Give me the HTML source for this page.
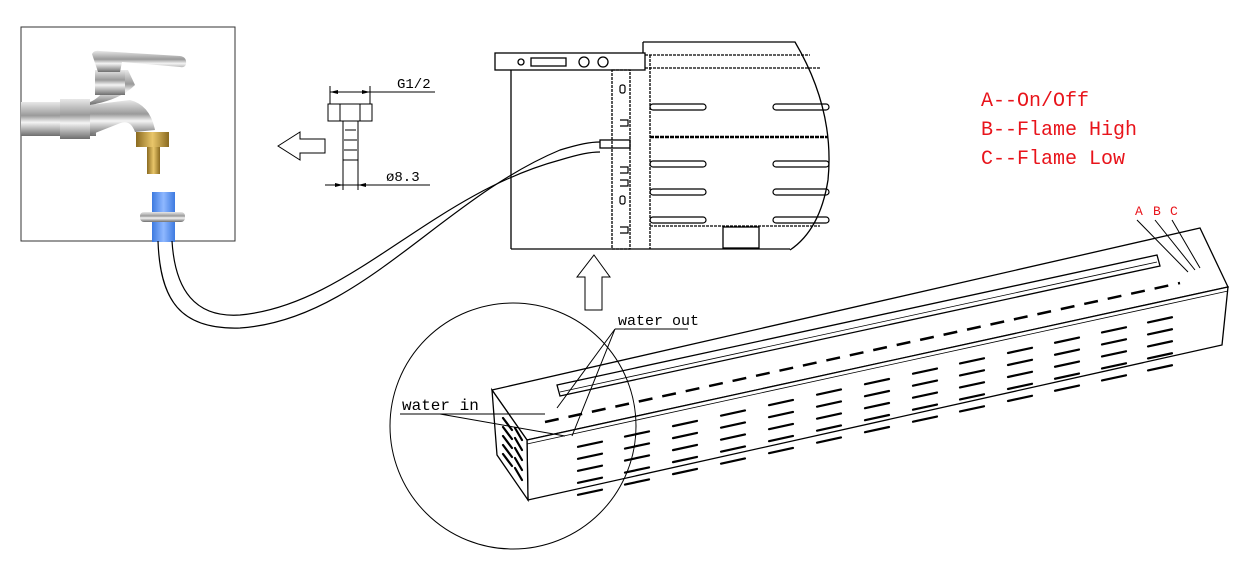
<!DOCTYPE html>
<html><head><meta charset="utf-8"><style>
html,body{margin:0;padding:0;background:#fff;}
svg{display:block;}
text{font-family:"Liberation Mono","Liberation Serif",monospace;}
</style></head><body>
<svg id="s" width="1245" height="569" viewBox="0 0 1245 569" xmlns="http://www.w3.org/2000/svg">
<defs>
<linearGradient id="chrome" x1="0" y1="0" x2="0" y2="1">
<stop offset="0" stop-color="#e8e8e8"/><stop offset="0.4" stop-color="#9a9a9a"/><stop offset="0.6" stop-color="#f4f4f4"/><stop offset="1" stop-color="#6e6e6e"/></linearGradient>
<linearGradient id="brass" x1="0" y1="0" x2="1" y2="0">
<stop offset="0" stop-color="#8a6a20"/><stop offset="0.5" stop-color="#e9c66a"/><stop offset="1" stop-color="#8a6a20"/></linearGradient>
<linearGradient id="blue" x1="0" y1="0" x2="1" y2="0">
<stop offset="0" stop-color="#3d7ae0"/><stop offset="0.5" stop-color="#8fb8ff"/><stop offset="1" stop-color="#3d7ae0"/></linearGradient>
</defs>
<rect x="21" y="27" width="214" height="214" fill="#fff" stroke="#333" stroke-width="1"/>
<rect x="21" y="102" width="75" height="34" fill="url(#chrome)"/>
<rect x="60" y="99" width="30" height="40" fill="url(#chrome)"/>
<path d="M90 105 Q120 100 135 85 L128 70 L110 70 L108 85 Q100 98 90 102 Z" fill="url(#chrome)"/>
<path d="M90 105 L130 100 Q150 105 155 130 L135 132 Q130 118 118 124 L90 135 Z" fill="url(#chrome)"/>
<rect x="95" y="70" width="30" height="25" fill="url(#chrome)"/>
<path d="M92 54 Q94 50 100 51 L180 56 Q187 57 186 64 Q185 68 180 67 L122 62 L120 72 L98 72 Z" fill="url(#chrome)"/>
<rect x="136" y="132" width="33" height="15" fill="url(#brass)"/>
<rect x="147" y="147" width="13" height="27" fill="url(#brass)"/>
<rect x="152" y="192" width="23" height="50" fill="url(#blue)"/>
<rect x="140" y="212" width="45" height="10" rx="4" fill="url(#chrome)"/>
<path d="M158 241 C160 300 180 330 240 328 C360 320 440 200 560 150 C580 144 590 142 600 142" fill="none" stroke="#000" stroke-width="1.2"/>
<path d="M172 241 C175 290 195 318 240 315 C350 305 430 195 560 160 C580 154 590 152 600 152" fill="none" stroke="#000" stroke-width="1.2"/>
<path d="M278 146 L300 132 L300 139 L325 139 L325 153 L300 153 L300 160 Z" fill="#fff" stroke="#000" stroke-width="1"/>
<g stroke="#000" stroke-width="1" fill="none">
<rect x="328" y="104" width="44" height="17"/>
<line x1="340" y1="104" x2="340" y2="121"/><line x1="360" y1="104" x2="360" y2="121"/>
<rect x="343" y="121" width="15" height="39"/>
<path d="M345 130 H356 M344 140 H357 M344 150 H357"/>
<line x1="330" y1="86" x2="330" y2="104"/><line x1="370" y1="86" x2="370" y2="104"/>
<line x1="330" y1="92" x2="435" y2="92"/>
<line x1="343" y1="160" x2="343" y2="190"/><line x1="358" y1="160" x2="358" y2="190"/>
<line x1="325" y1="185" x2="430" y2="185"/>
</g>
<g fill="#000"><path d="M330 92 l8 -2 v4z M370 92 l-8 -2 v4z M343 185 l-8 -2 v4z M358 185 l8 -2 v4z"/></g>
<text x="397" y="88" font-size="14">G1/2</text>
<text x="386" y="181" font-size="14">ø8.3</text>
<g stroke="#000" fill="none" stroke-width="1.3">
<path d="M643 42 L795 42 Q835 110 828 180 Q820 230 790 250"/>
<rect x="495" y="53" width="150" height="17"/>
<line x1="643" y1="42" x2="643" y2="53"/>
<line x1="645" y1="55" x2="810" y2="55" stroke-dasharray="3 1"/>
<line x1="645" y1="68" x2="820" y2="68" stroke-dasharray="3 1"/>
<line x1="511" y1="70" x2="511" y2="249"/>
<line x1="511" y1="249" x2="790" y2="249"/>
<rect x="612" y="70" width="18" height="179" stroke-dasharray="3 1"/>
<line x1="650" y1="55" x2="650" y2="249" stroke-dasharray="3 1"/>
<rect x="531" y="58" width="35" height="8"/>
<circle cx="521" cy="62" r="3"/>
<circle cx="584" cy="62" r="5"/><circle cx="603" cy="62" r="5"/>
<line x1="650" y1="137" x2="828" y2="137" stroke-width="2.5" stroke-dasharray="4 1"/>
<line x1="650" y1="226" x2="820" y2="226" stroke-dasharray="3 1"/>
<rect x="723" y="227" width="36" height="21"/>
<rect x="600" y="140" width="30" height="8"/>
</g>
<g stroke="#000" fill="none" stroke-width="1.2">
<rect x="650" y="104" width="56" height="6" rx="3"/><rect x="773" y="104" width="56" height="6" rx="3"/>
<rect x="650" y="161" width="56" height="6" rx="3"/><rect x="773" y="161" width="56" height="6" rx="3"/>
<rect x="650" y="189" width="56" height="6" rx="3"/><rect x="773" y="189" width="56" height="6" rx="3"/>
<rect x="650" y="217" width="56" height="6" rx="3"/><rect x="773" y="217" width="56" height="6" rx="3"/>
<rect x="620" y="85" width="5" height="8" rx="2"/><rect x="620" y="196" width="5" height="8" rx="2"/>
<path d="M620 120h8v6h-8 M620 167h8v6h-8 M620 180h8v6h-8 M620 227h8v6h-8"/>
</g>
<path d="M594 255 L610 277 L602 277 L602 310 L585 310 L585 277 L577 277 Z" fill="#fff" stroke="#000" stroke-width="1"/>
<g stroke="#000" fill="#fff" stroke-width="1.3">
<polygon points="492,390 1200,228 1228,287 527,440"/>
<polygon points="527,440 1228,287 1222,345 528,500"/>
<polygon points="492,390 527,440 528,500 497,455"/>
<polygon points="557,385 1157,255 1160,266 560,396" fill="#fff"/>
</g>
<line x1="560" y1="392" x2="1157" y2="262" stroke="#000" stroke-width="0.8"/>
<line x1="545" y1="422" x2="1180" y2="283" stroke="#000" stroke-width="2.5" stroke-dasharray="14 10"/>
<line x1="527" y1="444" x2="1228" y2="291" stroke="#000" stroke-width="0.8"/>
<g id="louv" stroke="#000" stroke-width="2.2" stroke-linecap="round"></g>
<circle cx="513" cy="426" r="123" fill="none" stroke="#000" stroke-width="1"/>
<g stroke="#000" stroke-width="1" fill="none">
<line x1="400" y1="414" x2="545" y2="414"/>
<line x1="440" y1="414" x2="565" y2="436"/>
<line x1="615" y1="329" x2="688" y2="329"/>
<line x1="615" y1="329" x2="557" y2="408"/>
<line x1="615" y1="329" x2="572" y2="436"/>
<line x1="1137" y1="220" x2="1188" y2="272"/>
<line x1="1155" y1="220" x2="1195" y2="270"/>
<line x1="1172" y1="220" x2="1200" y2="268"/>
</g>
<text x="402" y="410" font-size="16" fill="#000">water in</text>
<text x="618" y="325" font-size="15" fill="#000">water out</text>
<g fill="#e8141b" font-size="13"><text x="1135" y="215">A</text><text x="1153" y="215">B</text><text x="1170" y="215">C</text></g>
<g fill="#e8141b" font-size="20">
<text x="981" y="106">A--On/Off</text>
<text x="981" y="135">B--Flame High</text>
<text x="981" y="164">C--Flame Low</text>
</g>
</svg>
<script>
var g=document.getElementById('louv'),s='';
var cols=[590,637,685,733,781,829,877,925,972,1020,1067,1114,1160];
function ty(x){return 440+(x-527)*(287-440)/(1228-527);}
cols.forEach(function(c){for(var i=0;i<5;i++){var x=c,y=ty(c)+18+i*12;if(y>ty(c)+75)break;s+='<line x1="'+(x-12)+'" y1="'+(y+2.6)+'" x2="'+(x+12)+'" y2="'+(y-2.6)+'"/>';}});
for(var i=0;i<5;i++){s+='<line x1="'+(503)+'" y1="'+(418+i*9)+'" x2="'+(512)+'" y2="'+(430+i*9)+'"/>';s+='<line x1="'+(515)+'" y1="'+(428+i*10)+'" x2="'+(522)+'" y2="'+(440+i*10)+'"/>';}
g.innerHTML=s;
</script>
</body></html>
